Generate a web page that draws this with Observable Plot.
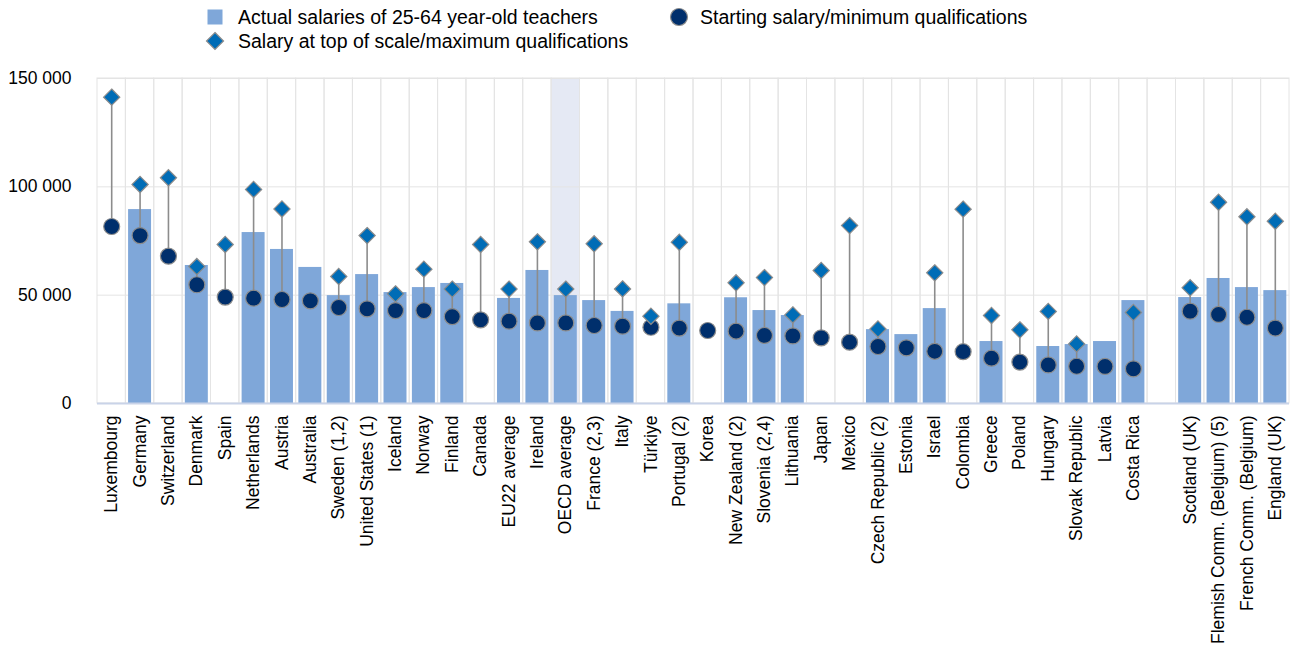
<!DOCTYPE html>
<html>
<head>
<meta charset="utf-8">
<script src="https://cdn.jsdelivr.net/npm/d3@7"></script>
<script src="https://cdn.jsdelivr.net/npm/@observablehq/plot@0.6"></script>
<style>
  html, body { margin: 0; padding: 0; background: #fff; overflow: hidden; }
  body { width: 1290px; height: 657px; font-family: "Liberation Sans", Arial, sans-serif; }
  #legend { position: relative; height: 52px; width: 1290px; font-size: 19.5px; color: #000; }
  .item { position: absolute; display: flex; align-items: center; height: 24px; white-space: nowrap; }
  .item svg { position: absolute; }
  .item span { position: absolute; white-space: nowrap; }
  #chart svg { display: block; }
</style>
</head>
<body>
<div id="legend"></div>
<div id="chart"></div>
<script>
const categories = ["Luxembourg","Germany","Switzerland","Denmark","Spain","Netherlands","Austria","Australia","Sweden (1,2)","United States (1)","Iceland","Norway","Finland","Canada","EU22 average","Ireland","OECD average","France (2,3)","Italy","Türkiye","Portugal (2)","Korea","New Zealand (2)","Slovenia (2,4)","Lithuania","Japan","Mexico","Czech Republic (2)","Estonia","Israel","Colombia","Greece","Poland","Hungary","Slovak Republic","Latvia","Costa Rica","gap","Scotland (UK)","Flemish Comm. (Belgium) (5)","French Comm. (Belgium)","England (UK)"];

const actualSalary = [null,89500,null,63700,null,78900,71100,62800,49800,59500,51200,53500,55400,null,48500,61400,49800,47500,42500,null,46000,null,48800,42900,40600,null,null,34100,31800,43800,null,28600,null,26300,27200,28600,47500,null,48900,57700,53500,52100];

const startingSalary = [81700,77500,68000,54800,49100,48600,48000,47400,44300,43700,42900,42900,40100,38600,38000,37200,37200,36000,35700,35200,34800,33700,33400,31400,31200,30300,28300,26300,25700,24100,23900,20900,19100,17800,17200,17100,16000,null,42600,41100,39800,34800];

const topSalary = [141400,101100,104200,63200,73400,98800,89800,null,58600,77500,50600,62000,52800,73400,52800,74600,52800,73700,52900,40300,74400,null,55700,58100,40900,61400,82100,34400,null,60300,89700,40600,34000,42500,27500,null,42000,null,53400,92900,86200,84100];

const yTicks = [0, 50000, 100000, 150000];
const highlighted = ["OECD average"];

const seriesNames = ["Actual salaries of 25-64 year-old teachers", "Salary at top of scale/maximum qualifications", "Starting salary/minimum qualifications"];

const colors = { bar: "#7fa7d9", top: "#006cb6", start: "#002f6c", marker: "#8c8c8c", grid: "#e4e4e4", axis: "#c9d3e8", hl: "#e5e9f4" };

// Legend
const legend = document.getElementById("legend");
function addItem(left, top, symbolSvg, text, textLeft) {
  const div = document.createElement("div");
  div.className = "item";
  div.style.left = "0px";
  div.style.top = top + "px";
  div.innerHTML = `<svg width="22" height="22" style="left:${left}px;top:1px" viewBox="-11 -11 22 22">${symbolSvg}</svg><span style="left:${textLeft}px;top:0px;line-height:24px">${text}</span>`;
  legend.appendChild(div);
}
addItem(204, 5, `<rect x="-7.5" y="-7.5" width="15" height="15" fill="${colors.bar}"/>`, seriesNames[0], 238);
addItem(204, 29, `<path d="M0,-8.5L8.5,0L0,8.5L-8.5,0Z" fill="${colors.top}" stroke="${colors.marker}" stroke-width="1.2"/>`, seriesNames[1], 238);
addItem(668, 5, `<circle r="8.5" fill="${colors.start}" stroke="${colors.marker}" stroke-width="1.2"/>`, seriesNames[2], 700);

const data = categories.map((c, i) => ({c, actual: actualSalary[i], start: startingSalary[i], top: topSalary[i]}));
const bars = data.filter(d => d.actual != null);
const starts = data.filter(d => d.start != null);
const tops = data.filter(d => d.top != null);
const ranges = data.filter(d => d.top != null && d.start != null);

const fmt = d => d3.format(",")(d).replace(/,/g, " ");

const chart = Plot.plot({
  width: 1290,
  height: 605,
  marginLeft: 97,
  marginRight: 1,
  marginTop: 26,
  marginBottom: 254,
  style: { fontFamily: "'Liberation Sans', Arial, sans-serif", fontSize: "17.5px", color: "#000", background: "#fff" },
  x: { domain: categories, padding: 0, round: false, label: null, tickSize: 0, tickPadding: 12, tickRotate: -90, tickFormat: d => d === "gap" ? "" : d },
  y: { domain: [0, 150000], ticks: yTicks, tickFormat: fmt, label: null, tickSize: 0, tickPadding: 26 },
  marks: [
    Plot.barY(highlighted, { x: d => d, y1: () => 0, y2: () => 150000, fill: colors.hl, inset: 0 }),
    Plot.barY(categories, { x: d => d, y1: () => 0, y2: () => 150000, fill: "none", stroke: colors.grid, strokeWidth: 1, inset: 0 }),
    Plot.ruleY(yTicks.filter(t => t > 0), { stroke: colors.grid, strokeWidth: 1 }),
    Plot.barY(bars, { x: "c", y: "actual", fill: colors.bar, insetLeft: 2.7, insetRight: 2.7 }),
    Plot.ruleY([0], { stroke: colors.axis, strokeWidth: 2 }),
    Plot.ruleX(ranges, { x: "c", y1: "start", y2: "top", stroke: colors.marker, strokeWidth: 1.6 }),
    Plot.dot(starts, { x: "c", y: "start", r: 8, fill: colors.start, stroke: colors.marker, strokeWidth: 1.2 }),
    Plot.dot(tops, { x: "c", y: "top", symbol: "diamond2", r: 7.3, fill: colors.top, stroke: colors.marker, strokeWidth: 1.2 })
  ]
});
document.getElementById("chart").appendChild(chart);
</script>
</body>
</html>
